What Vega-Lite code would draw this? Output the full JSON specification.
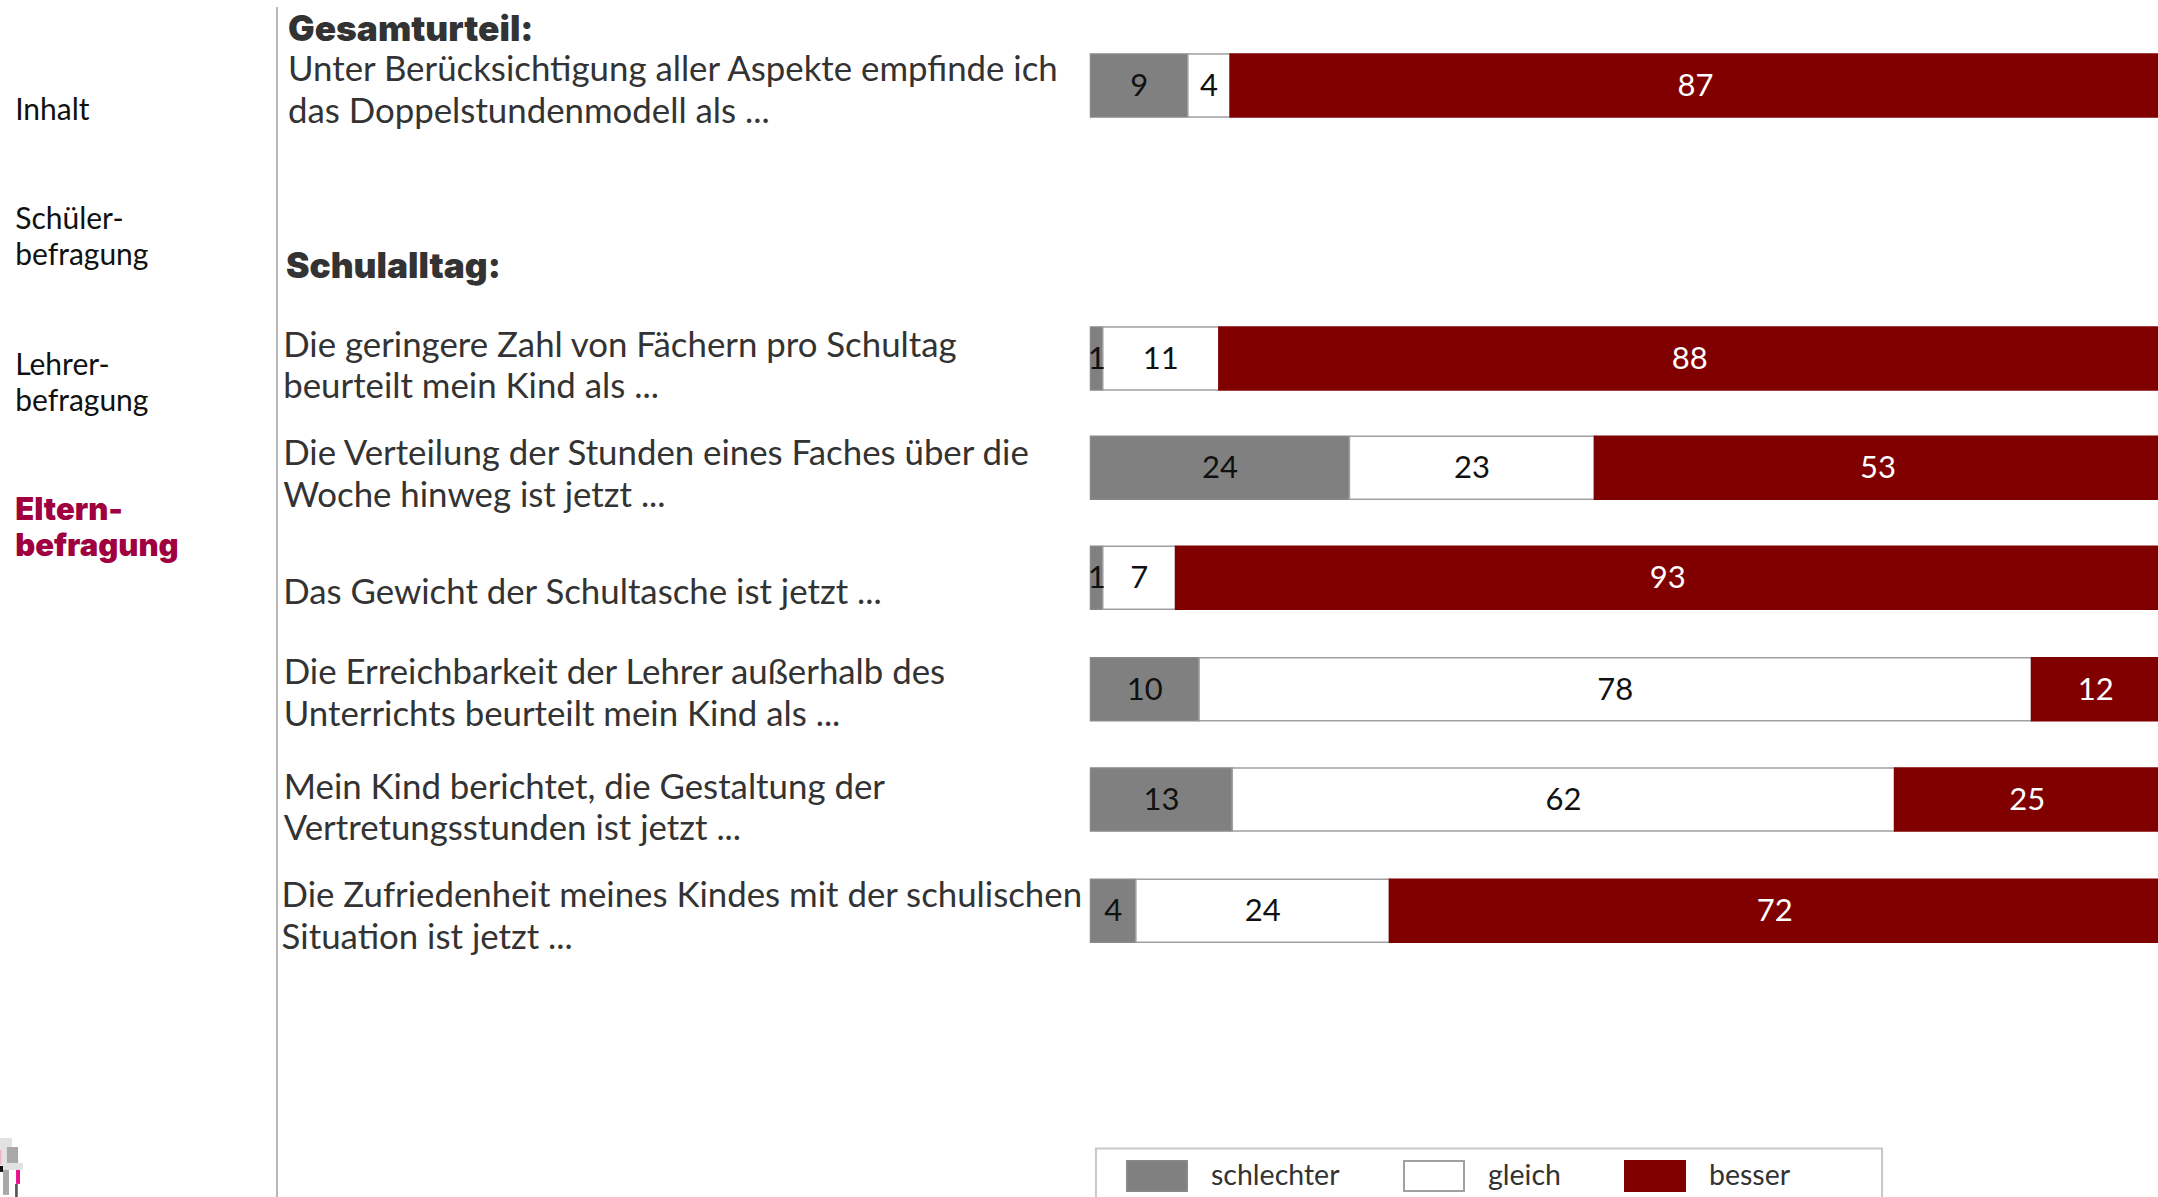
{
"$schema":"https://vega.github.io/schema/vega-lite/v6.json",
"width":2158,"height":1197,"padding":0,"autosize":{"type":"none"},"background":"white",
"config":{"view":{"stroke":null},"font":"Lato"},
"datasets":{
"balken":[
{"frage":"Gesamturteil","zeile":0,"kategorie":"schlechter","ord":1,"wert":9,"anteil":9.1},
{"frage":"Gesamturteil","zeile":0,"kategorie":"gleich","ord":2,"wert":4,"anteil":3.95},
{"frage":"Gesamturteil","zeile":0,"kategorie":"besser","ord":3,"wert":87,"anteil":87},
{"frage":"Fächer","zeile":2.482,"kategorie":"schlechter","ord":1,"wert":1,"anteil":1.15},
{"frage":"Fächer","zeile":2.482,"kategorie":"gleich","ord":2,"wert":11,"anteil":10.85},
{"frage":"Fächer","zeile":2.482,"kategorie":"besser","ord":3,"wert":88,"anteil":88},
{"frage":"Verteilung","zeile":3.475,"kategorie":"schlechter","ord":1,"wert":24,"anteil":24.2},
{"frage":"Verteilung","zeile":3.475,"kategorie":"gleich","ord":2,"wert":23,"anteil":22.9},
{"frage":"Verteilung","zeile":3.475,"kategorie":"besser","ord":3,"wert":53,"anteil":53},
{"frage":"Schultasche","zeile":4.475,"kategorie":"schlechter","ord":1,"wert":1,"anteil":1.15},
{"frage":"Schultasche","zeile":4.475,"kategorie":"gleich","ord":2,"wert":7,"anteil":6.8},
{"frage":"Schultasche","zeile":4.475,"kategorie":"besser","ord":3,"wert":93,"anteil":92},
{"frage":"Erreichbarkeit","zeile":5.488,"kategorie":"schlechter","ord":1,"wert":10,"anteil":10.15},
{"frage":"Erreichbarkeit","zeile":5.488,"kategorie":"gleich","ord":2,"wert":78,"anteil":77.8},
{"frage":"Erreichbarkeit","zeile":5.488,"kategorie":"besser","ord":3,"wert":12,"anteil":12},
{"frage":"Vertretung","zeile":6.492,"kategorie":"schlechter","ord":1,"wert":13,"anteil":13.25},
{"frage":"Vertretung","zeile":6.492,"kategorie":"gleich","ord":2,"wert":62,"anteil":61.9},
{"frage":"Vertretung","zeile":6.492,"kategorie":"besser","ord":3,"wert":25,"anteil":24.8},
{"frage":"Zufriedenheit","zeile":7.502,"kategorie":"schlechter","ord":1,"wert":4,"anteil":4.24},
{"frage":"Zufriedenheit","zeile":7.502,"kategorie":"gleich","ord":2,"wert":24,"anteil":23.7},
{"frage":"Zufriedenheit","zeile":7.502,"kategorie":"besser","ord":3,"wert":72,"anteil":72}
],
"fragen":[
{"text":"Unter Berücksichtigung aller Aspekte empfinde ich\ndas Doppelstundenmodell als ...","spalte":-75.0,"zeile":-0.152},
{"text":"Die geringere Zahl von Fächern pro Schultag\nbeurteilt mein Kind als ...","spalte":-75.45,"zeile":2.35},
{"text":"Die Verteilung der Stunden eines Faches über die\nWoche hinweg ist jetzt ...","spalte":-75.45,"zeile":3.339},
{"text":"Das Gewicht der Schultasche ist jetzt ...","spalte":-75.45,"zeile":4.603},
{"text":"Die Erreichbarkeit der Lehrer außerhalb des\nUnterrichts beurteilt mein Kind als ...","spalte":-75.4,"zeile":5.328},
{"text":"Mein Kind berichtet, die Gestaltung der\nVertretungsstunden ist jetzt ...","spalte":-75.4,"zeile":6.367},
{"text":"Die Zufriedenheit meines Kindes mit der schulischen\nSituation ist jetzt ...","spalte":-75.6,"zeile":7.356}
],
"ueberschriften":[
{"text":"Gesamturteil:","spalte":-75.0,"zeile":-0.527},
{"text":"Schulalltag:","spalte":-75.2,"zeile":1.623}
],
"seite":[
{"text":"Inhalt","spalte":-100.5,"zeile":0.211},
{"text":"Schüler-\nbefragung","spalte":-100.5,"zeile":1.2},
{"text":"Lehrer-\nbefragung","spalte":-100.5,"zeile":2.523}
],
"logo":[
{"teil":"hell","a":-101.92,"b":-100.79,"c":9.568,"d":9.795},
{"teil":"mittel","a":-101.27,"b":-100.23,"c":9.65,"d":9.795},
{"teil":"hell","a":-101.92,"b":-99.77,"c":9.795,"d":9.859},
{"teil":"pink","a":-101.92,"b":-101.78,"c":9.677,"d":9.805},
{"teil":"schwarz","a":-101.92,"b":-101.64,"c":9.823,"d":9.877},
{"teil":"mittel","a":-101.64,"b":-101.08,"c":9.859,"d":10.086},
{"teil":"magenta","a":-100.42,"b":-100.05,"c":9.859,"d":9.986},
{"teil":"dunkel","a":-100.51,"b":-100.26,"c":9.986,"d":10.105}
]
},
"encoding":{
"x":{"type":"quantitative","scale":{"domain":[-101.92,99.77],"range":[0,2158],"nice":false,"zero":false},"axis":null},
"y":{"type":"quantitative","scale":{"domain":[-0.777,10.105],"range":[0,1197],"nice":false,"zero":false,"padding":0},"axis":null}
},
"layer":[
{"data":{"name":"logo"},"mark":{"type":"rect"},
 "encoding":{"x":{"field":"a","type":"quantitative"},"x2":{"field":"b"},"y":{"field":"c","type":"quantitative"},"y2":{"field":"d"},
 "color":{"field":"teil","type":"nominal","legend":null,"scale":{"domain":["hell","mittel","pink","schwarz","magenta","dunkel"],"range":["#e2e2e2","#a8a8a8","#f4b0cc","#111111","#e8108c","#555555"]}}}},
{"data":{"values":[{}]},"mark":{"type":"rule","color":"#b8b8b8","strokeWidth":2},
 "encoding":{"x":{"datum":-76.03,"type":"quantitative"},"y":{"datum":-0.714,"type":"quantitative"},"y2":{"datum":10.2}}},
{"data":{"values":[{}]},"mark":{"type":"rect","fill":null,"stroke":"#c8c8c8","strokeWidth":2},
 "encoding":{"x":{"datum":0.51,"type":"quantitative"},"x2":{"datum":73.98},"y":{"datum":9.665,"type":"quantitative"},"y2":{"datum":10.5}}},
{"data":{"name":"balken"},"mark":{"type":"bar","orient":"horizontal","height":63,"strokeWidth":1.5},
 "encoding":{
 "x":{"field":"anteil","type":"quantitative","stack":"zero"},
 "y":{"field":"zeile","type":"quantitative"},
 "order":{"field":"ord","type":"quantitative"},
 "fill":{"field":"kategorie","type":"nominal","scale":{"domain":["schlechter","gleich","besser"],"range":["#808080","#ffffff","#800000"]},
  "legend":{"orient":"none","legendX":1126,"legendY":1156,"title":null,"direction":"horizontal","columns":3,"gridAlign":"none","columnPadding":63,"padding":0,"symbolType":"M-1,-0.5H1V0.5H-1Z","symbolSize":3600,"symbolStrokeWidth":2,"clipHeight":40,"labelOffset":23,"labelFontSize":28.5,"labelColor":"#333333","labelFont":"Lato","labelBaseline":"middle","labelLimit":300}},
 "stroke":{"field":"kategorie","type":"nominal","scale":{"domain":["schlechter","gleich","besser"],"range":["#888888","#a0a0a0","#800000"]}}
 }},
{"data":{"name":"balken"},"mark":{"type":"text","fontSize":31,"baseline":"middle","align":"center","dy":1.5},
 "encoding":{
 "x":{"field":"anteil","type":"quantitative","stack":"zero","bandPosition":0.5},
 "y":{"field":"zeile","type":"quantitative"},
 "order":{"field":"ord","type":"quantitative"},
 "text":{"field":"wert","type":"quantitative"},
 "color":{"condition":{"test":"datum.kategorie==='besser'","value":"#ffffff"},"value":"#111111"}
 }},
{"data":{"name":"fragen"},"mark":{"type":"text","fontSize":34.8,"lineHeight":41.5,"lineBreak":"\n","align":"left","baseline":"middle","color":"#333333","dy":2.7},
 "encoding":{"x":{"field":"spalte","type":"quantitative"},"y":{"field":"zeile","type":"quantitative"},"text":{"field":"text"}}},
{"data":{"name":"ueberschriften"},"mark":{"type":"text","font":"Inter","fontSize":35.3,"fontWeight":900,"align":"left","baseline":"middle","color":"#333333","dy":2.7},
 "encoding":{"x":{"field":"spalte","type":"quantitative"},"y":{"field":"zeile","type":"quantitative"},"text":{"field":"text"}}},
{"data":{"name":"seite"},"mark":{"type":"text","fontSize":30,"lineHeight":36,"lineBreak":"\n","align":"left","baseline":"middle","color":"#111111","dy":2.7},
 "encoding":{"x":{"field":"spalte","type":"quantitative"},"y":{"field":"zeile","type":"quantitative"},"text":{"field":"text"}}},
{"data":{"values":[{"text":"Eltern-\nbefragung","spalte":-100.5,"zeile":3.84}]},"mark":{"type":"text","font":"Inter","fontSize":31,"fontWeight":900,"lineHeight":36,"lineBreak":"\n","align":"left","baseline":"middle","color":"#a00040","dy":2.7},
 "encoding":{"x":{"field":"spalte","type":"quantitative"},"y":{"field":"zeile","type":"quantitative"},"text":{"field":"text"}}}
]
}
